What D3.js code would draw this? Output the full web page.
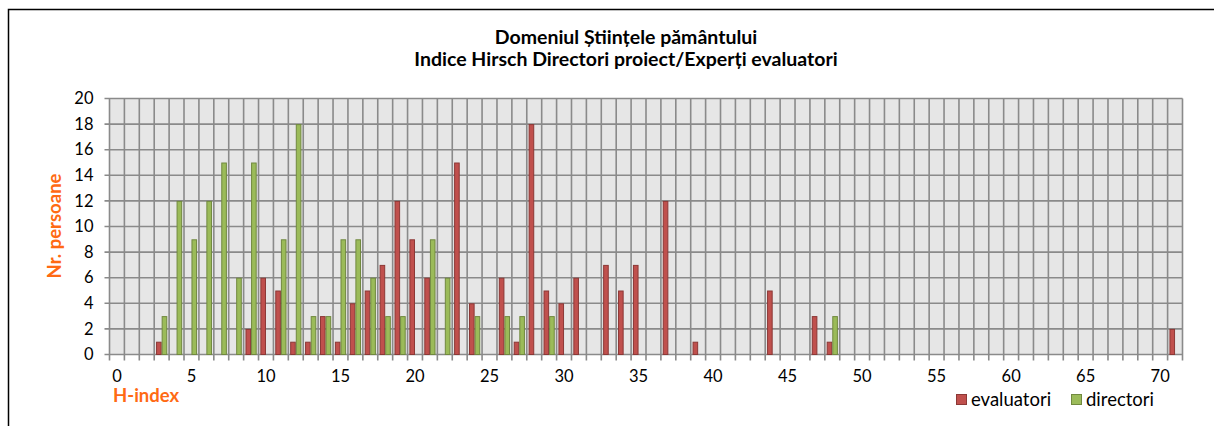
<!DOCTYPE html>
<html>
<head>
<meta charset="utf-8">
<script src="https://cdn.jsdelivr.net/npm/d3@7"></script>
<style>
  body { margin: 0; background: #fff; }
  svg { display: block; font-family: Lato, 'Liberation Sans', sans-serif; }
  .grid line { stroke: #8a8a8a; stroke-width: 1.6; }
  .axis path { display: none; }
  .axis line { stroke: #8a8a8a; stroke-width: 1.6; }
  .axis text { fill: #000; font-size: 16.5px; }
  .axis-title { fill: #ff6a13; font-weight: bold; font-size: 18.5px; }
  .title { font-weight: bold; font-size: 19.5px; fill: #000; }
</style>
</head>
<body>
<svg id="chart" width="1214" height="426"></svg>
<script>
'use strict';

// H-index values 0..71 (one category each)
var hIndex = d3.range(0, 72);

var evaluatori = [
  0, 0, 0, 1, 0, 0, 0, 0, 0, 2,
  6, 5, 1, 1, 3, 1, 4, 5, 7, 12,
  9, 6, 0, 15, 4, 0, 6, 1, 18, 5,
  4, 6, 0, 7, 5, 7, 0, 12, 0, 1,
  0, 0, 0, 0, 5, 0, 0, 3, 1, 0,
  0, 0, 0, 0, 0, 0, 0, 0, 0, 0,
  0, 0, 0, 0, 0, 0, 0, 0, 0, 0,
  0, 2
];

var directori = [
  0, 0, 0, 3, 12, 9, 12, 15, 6, 15,
  0, 9, 18, 3, 3, 9, 9, 6, 3, 3,
  0, 9, 6, 0, 3, 0, 3, 3, 0, 3,
  0, 0, 0, 0, 0, 0, 0, 0, 0, 0,
  0, 0, 0, 0, 0, 0, 0, 0, 3, 0,
  0, 0, 0, 0, 0, 0, 0, 0, 0, 0,
  0, 0, 0, 0, 0, 0, 0, 0, 0, 0,
  0, 0
];

var seriesNames = ['evaluatori', 'directori'];
var seriesFill = ['#c0504d', '#9bbb59'];
var seriesStroke = ['#8c3836', '#71893f'];

var yTicks = d3.range(0, 21, 2);
var xLabelTicks = d3.range(0, 71, 5);

var titleLines = [
  'Domeniul Științele pământului',
  'Indice Hirsch Directori proiect/Experți evaluatori'
];

var svg = d3.select('#chart'),
    plot = { left: 109.5, right: 1182.5, top: 98.5, bottom: 354.5 },
    x,
    xSeries,
    y,
    gPlot;

// outer frame (runs off the right/bottom edges like the picture)
svg.append('rect')
    .attr('x', 8.5)
    .attr('y', 9.5)
    .attr('width', 1230)
    .attr('height', 440)
    .attr('fill', '#fff')
    .attr('stroke', '#000')
    .attr('stroke-width', 1.5);

x = d3.scaleBand()
    .domain(hIndex)
    .range([plot.left, plot.right])
    .paddingInner(0)
    .paddingOuter(0);

xSeries = d3.scaleBand()
    .domain(seriesNames)
    .range([0, x.bandwidth()])
    .paddingInner(0)
    .paddingOuter(0.33);

y = d3.scaleLinear()
    .domain([0, 20])
    .range([plot.bottom, plot.top]);

// plot background
svg.append('rect')
    .attr('x', plot.left)
    .attr('y', plot.top)
    .attr('width', plot.right - plot.left)
    .attr('height', plot.bottom - plot.top)
    .attr('fill', '#e6e6e6');

// gridlines: horizontal every 2, vertical on each category boundary
var grid = svg.append('g').attr('class', 'grid');

grid.selectAll('line.h')
    .data(yTicks)
  .enter().append('line')
    .attr('class', 'h')
    .attr('x1', plot.left - 5)
    .attr('x2', plot.right)
    .attr('y1', function (d) { return y(d); })
    .attr('y2', function (d) { return y(d); });

grid.selectAll('line.v')
    .data(hIndex.concat([hIndex.length]))
  .enter().append('line')
    .attr('class', 'v')
    .attr('x1', function (d, i) { return plot.left + i * x.step(); })
    .attr('x2', function (d, i) { return plot.left + i * x.step(); })
    .attr('y1', plot.top)
    .attr('y2', plot.bottom + 6);

// bars
gPlot = svg.append('g');
seriesNames.forEach(function (name, s) {
  var values = s === 0 ? evaluatori : directori;

  gPlot.append('g')
      .attr('fill', seriesFill[s])
      .attr('stroke', seriesStroke[s])
      .attr('stroke-width', 1)
    .selectAll('rect')
      .data(hIndex.filter(function (h) { return values[h] > 0; }))
    .enter().append('rect')
      .attr('x', function (h) { return x(h) + xSeries(name) + 0.5; })
      .attr('y', function (h) { return y(values[h]) + 0.5; })
      .attr('width', xSeries.bandwidth() - 1)
      .attr('height', function (h) { return y(0) - y(values[h]) - 0.5; });
});

// y axis labels
svg.append('g')
    .attr('class', 'axis')
    .attr('transform', 'translate(' + (plot.left - 5) + ',0)')
    .call(d3.axisLeft(y).tickValues(yTicks).tickSize(0).tickPadding(11))
    .selectAll('text')
    .attr('font-family', 'Lato, sans-serif');

// x axis labels every 5
svg.append('g')
    .attr('class', 'axis')
    .attr('transform', 'translate(0,' + plot.bottom + ')')
    .call(d3.axisBottom(x).tickValues(xLabelTicks).tickSize(0).tickPadding(16))
    .selectAll('text')
    .attr('font-family', 'Lato, sans-serif');

// titles
svg.selectAll('text.title')
    .data(titleLines)
  .enter().append('text')
    .attr('class', 'title')
    .attr('x', 626)
    .attr('y', function (d, i) { return 44 + i * 22; })
    .attr('text-anchor', 'middle')
    .text(function (d) { return d; });

svg.append('text')
    .attr('class', 'axis-title')
    .attr('transform', 'translate(61,226) rotate(-90)')
    .attr('text-anchor', 'middle')
    .text('Nr. persoane');

svg.append('text')
    .attr('class', 'axis-title')
    .attr('x', 113)
    .attr('y', 402)
    .text('H-index');

// legend
var legend = svg.append('g')
    .attr('font-size', '18.5px')
    .selectAll('g')
    .data(seriesNames)
  .enter().append('g')
    .attr('transform', function (d, i) { return 'translate(' + [956, 1071][i] + ',394)'; });

legend.append('rect')
    .attr('x', 0.5)
    .attr('y', 0.5)
    .attr('width', 10)
    .attr('height', 10)
    .attr('fill', function (d, i) { return seriesFill[i]; })
    .attr('stroke', function (d, i) { return seriesStroke[i]; });

legend.append('text')
    .attr('x', 15)
    .attr('y', 12)
    .text(function (d) { return d; });
</script>
</body>
</html>
